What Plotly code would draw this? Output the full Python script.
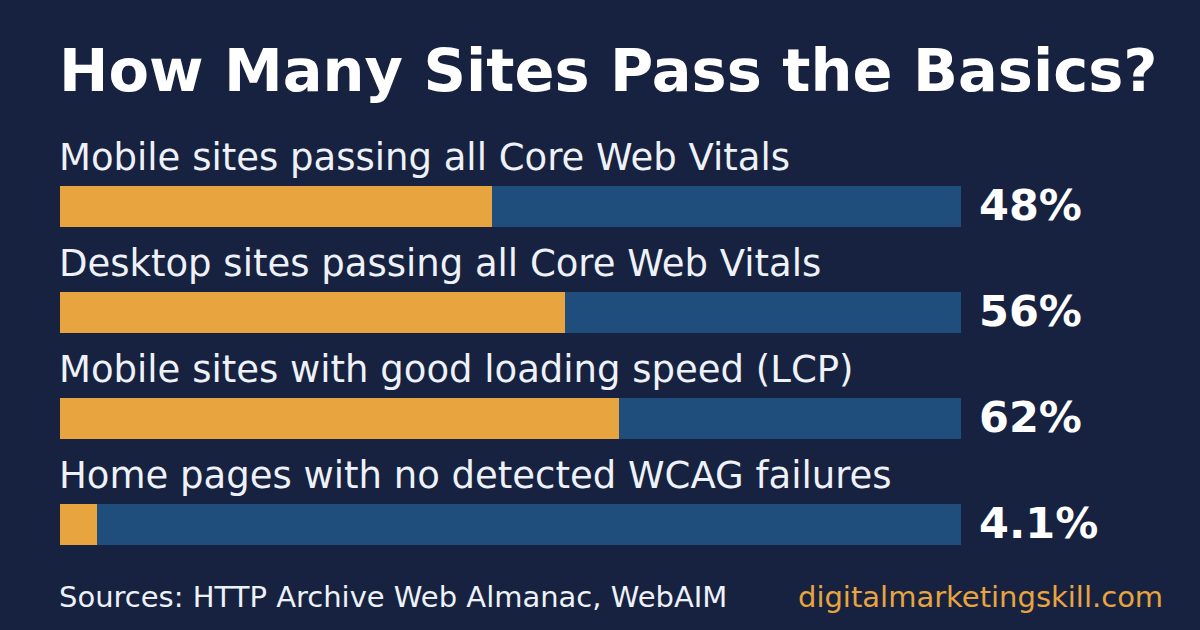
import plotly.graph_objects as go

categories = [
    "Mobile sites passing all Core Web Vitals",
    "Desktop sites passing all Core Web Vitals",
    "Mobile sites with good loading speed (LCP)",
    "Home pages with no detected WCAG failures",
]
values = [48, 56, 62, 4.1]
value_labels = ["48%", "56%", "62%", "4.1%"]
title = "How Many Sites Pass the Basics?"
source = "Sources: HTTP Archive Web Almanac, WebAIM"
site = "digitalmarketingskill.com"

BG = "#172240"
ORANGE = "#e8a43e"
BLUE = "#1f4e7d"
FONT = "DejaVu Sans"

W, H = 1200, 630
x0_px, x1_px = 60, 961
bar_h_px = 41
step_px = 106
first_center_px = 206.5

ypos = [-i for i in range(len(categories))]
ymax = first_center_px / step_px
ymin = ymax - H / step_px

fig = go.Figure()
fig.add_trace(go.Bar(
    x=[100] * len(categories), y=ypos, orientation="h",
    marker=dict(color=BLUE, line=dict(width=0)),
    width=bar_h_px / step_px, hoverinfo="skip", showlegend=False,
))
fig.add_trace(go.Bar(
    x=values, y=ypos, orientation="h",
    marker=dict(color=ORANGE, line=dict(width=0)),
    width=bar_h_px / step_px, showlegend=False,
))

annotations = []
for yv, cat, lab in zip(ypos, categories, value_labels):
    annotations.append(dict(
        x=0, y=yv, xref="x", yref="y", text=cat, showarrow=False,
        xanchor="left", yanchor="middle", xshift=-3, yshift=49,
        font=dict(family=FONT, size=37, color="#eef2f8"),
    ))
    annotations.append(dict(
        x=0, y=yv, xref="x", yref="y", text="<b>" + lab + "</b>", showarrow=False,
        xanchor="left", yanchor="middle", xshift=(980 - x0_px) - 3, yshift=2,
        font=dict(family=FONT, size=43, color="#ffffff"),
    ))

annotations.append(dict(
    x=x0_px / W - 3 / W, y=1 - 70 / H, xref="paper", yref="paper",
    text="<b>" + title + "</b>", showarrow=False,
    xanchor="left", yanchor="middle",
    font=dict(family=FONT, size=59, color="#ffffff"),
))
annotations.append(dict(
    x=x0_px / W - 3 / W, y=1 - 597 / H, xref="paper", yref="paper",
    text=source, showarrow=False, xanchor="left", yanchor="middle",
    font=dict(family=FONT, size=29, color="#eef2f8"),
))
annotations.append(dict(
    x=1165 / W, y=1 - 597 / H, xref="paper", yref="paper",
    text=site, showarrow=False, xanchor="right", yanchor="middle",
    font=dict(family=FONT, size=29, color=ORANGE),
))

fig.update_layout(
    width=W, height=H,
    margin=dict(l=0, r=0, t=0, b=0),
    paper_bgcolor=BG, plot_bgcolor=BG,
    barmode="overlay", bargap=0,
    xaxis=dict(domain=[x0_px / W, x1_px / W], range=[0, 100], visible=False, fixedrange=True),
    yaxis=dict(domain=[0, 1], range=[ymin, ymax], visible=False, fixedrange=True),
    annotations=annotations,
    font=dict(family=FONT),
)

fig.write_html(
    "out.html",
    config={"displayModeBar": False},
    post_script="document.body.style.margin='0';document.body.style.background='" + BG + "';",
)
